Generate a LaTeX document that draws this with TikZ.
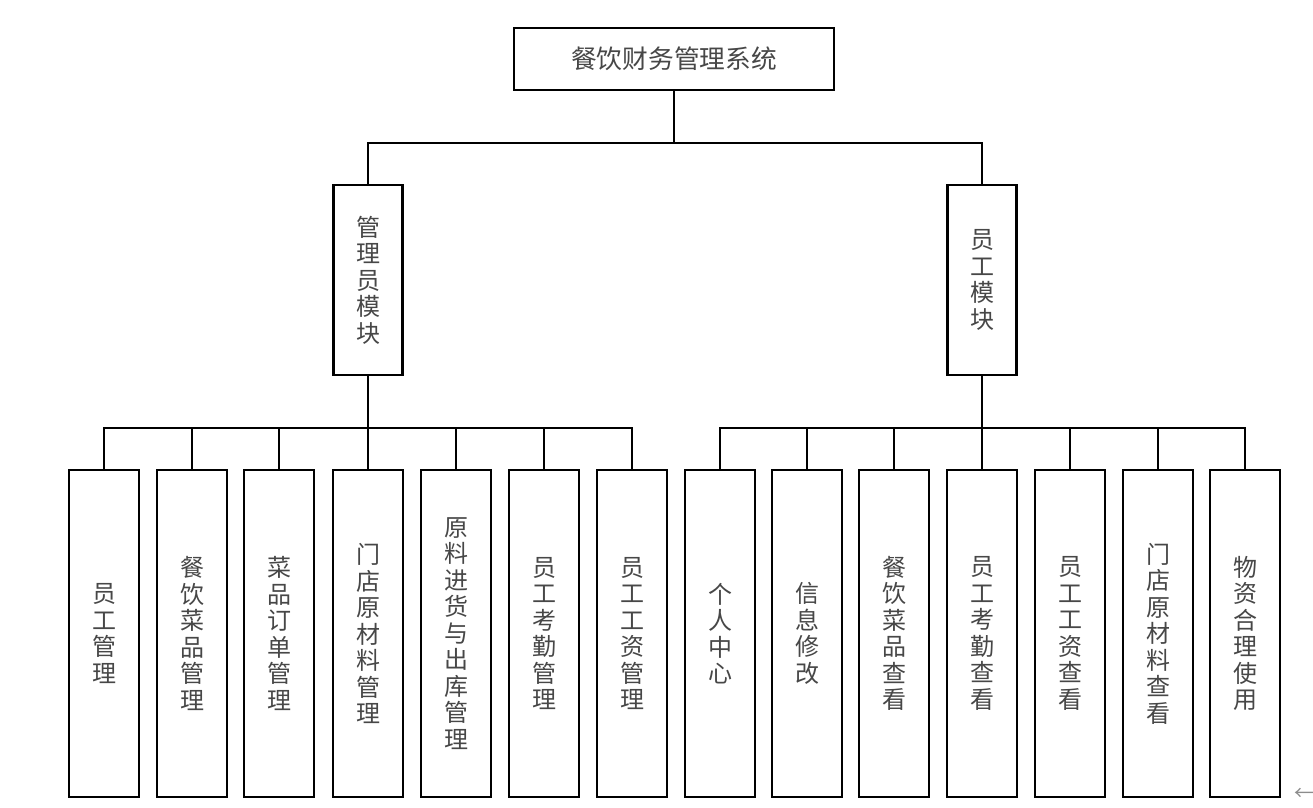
\documentclass[tikz,border=0pt]{standalone}
\usepackage{fontspec}
\newfontfamily\cjk{Noto Sans CJK SC}
\begin{document}
\begin{tikzpicture}[x=1pt,y=1pt,
  box/.style={draw=black,line width=2.8pt,fill=white,inner sep=0pt,align=center,text=black!72},
  topbox/.style={box,minimum width=320pt,minimum height=62pt,font=\cjk\fontsize{25.7}{28}\selectfont},
  midbox/.style={box,minimum width=69pt,minimum height=190pt,font=\cjk\fontsize{24}{26.5}\selectfont},
  leafbox/.style={box,minimum width=70pt,minimum height=327pt,font=\cjk\fontsize{24}{26.5}\selectfont},
  conn/.style={draw=black,line width=2.8pt}]
\useasboundingbox (0,0) rectangle (1313,-807);
\node[topbox] (top) at (674,-59) {餐饮财务管理系统};
\node[midbox] (ml) at (368,-280) {管\\理\\员\\模\\块};
\node[midbox] (mr) at (982,-280) {员\\工\\模\\块};
% left leaves
\node[leafbox] (a1) at (104,-633.5) {员\\工\\管\\理};
\node[leafbox] (a2) at (192,-633.5) {餐\\饮\\菜\\品\\管\\理};
\node[leafbox] (a3) at (279,-633.5) {菜\\品\\订\\单\\管\\理};
\node[leafbox] (a4) at (368,-633.5) {门\\店\\原\\材\\料\\管\\理};
\node[leafbox] (a5) at (456,-633.5) {原\\料\\进\\货\\与\\出\\库\\管\\理};
\node[leafbox] (a6) at (544,-633.5) {员\\工\\考\\勤\\管\\理};
\node[leafbox] (a7) at (632,-633.5) {员\\工\\工\\资\\管\\理};
% right leaves
\node[leafbox] (b1) at (720,-633.5) {个\\人\\中\\心};
\node[leafbox] (b2) at (807,-633.5) {信\\息\\修\\改};
\node[leafbox] (b3) at (894,-633.5) {餐\\饮\\菜\\品\\查\\看};
\node[leafbox] (b4) at (982,-633.5) {员\\工\\考\\勤\\查\\看};
\node[leafbox] (b5) at (1070,-633.5) {员\\工\\工\\资\\查\\看};
\node[leafbox] (b6) at (1158,-633.5) {门\\店\\原\\材\\料\\查\\看};
\node[leafbox] (b7) at (1245,-633.5) {物\\资\\合\\理\\使\\用};
% connectors
\coordinate (j0) at (674,-143);
\draw[conn] (top.south) -- (j0);
\draw[conn] (j0) -| (ml.north);
\draw[conn] (j0) -| (mr.north);
\coordinate (jl) at (368,-428);
\coordinate (jr) at (982,-428);
\draw[conn] (ml.south) -- (jl);
\draw[conn] (mr.south) -- (jr);
\foreach \n in {a1,a2,a3,a4,a5,a6,a7} \draw[conn] (jl) -| (\n.north);
\foreach \n in {b1,b2,b3,b4,b5,b6,b7} \draw[conn] (jr) -| (\n.north);
\node[font=\cjk\fontsize{20}{20}\selectfont,text=black!45] (arr) at (1304,-794) {←};
\end{tikzpicture}
\end{document}
